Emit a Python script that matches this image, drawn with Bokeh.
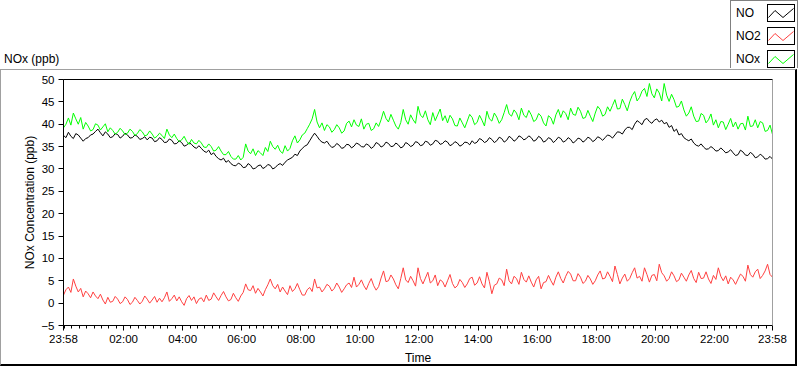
from bokeh.plotting import figure
from bokeh.layouts import column
from bokeh.models import Range1d, FixedTicker, LinearAxis, Div
from bokeh.embed import file_html
from bokeh.resources import INLINE

# ---- data (minutes since 23:58, sampled every 5 min) ----
minutes = list(range(0, 1441, 5))

no = [37.5, 37.0, 38.2, 37.3, 36.8, 37.9, 37.6, 36.9, 36.2, 36.8,
      37.0, 37.6, 37.8, 38.4, 38.9, 38.1, 37.4, 38.3, 37.8, 37.0,
      37.2, 37.9, 37.7, 36.9, 37.3, 38.0, 37.6, 36.9, 37.0, 37.6,
      37.3, 36.6, 36.8, 37.2, 36.5, 37.1, 36.9, 36.1, 36.3, 37.0,
      36.6, 35.9, 36.0, 36.7, 36.4, 35.6, 35.7, 36.3, 35.9, 35.1,
      35.3, 35.9, 35.5, 34.9, 34.6, 35.2, 34.6, 34.0, 33.7, 34.2,
      33.2, 33.6, 32.8, 32.3, 32.0, 32.4, 31.5, 31.9, 31.2, 30.8,
      30.7, 31.3, 31.0, 30.3, 30.4, 31.2, 30.8, 30.0, 30.2, 30.7,
      30.9, 30.1, 30.4, 31.0, 30.8, 30.0, 30.3, 30.9, 31.2, 30.8,
      31.5, 32.0, 32.3, 32.6, 33.3, 33.0, 34.0, 34.6, 35.1, 35.4,
      36.3, 37.2, 38.0, 37.3, 36.5, 36.0, 35.8, 36.2, 35.4, 34.8,
      35.0, 35.7, 35.3, 34.6, 34.8, 35.5, 35.4, 34.7, 35.1, 35.8,
      35.5, 35.0, 34.9, 35.6, 35.3, 34.6, 35.0, 35.9, 35.6, 34.9,
      35.2, 36.0, 35.7, 35.0, 35.1, 35.8, 35.4, 34.7, 35.0, 35.9,
      35.6, 35.0, 35.3, 36.1, 35.9, 35.2, 35.4, 36.2, 36.0, 35.3,
      35.6, 36.4, 36.2, 35.5, 35.7, 36.3, 36.0, 35.2, 35.5, 36.1,
      35.8, 35.1, 35.4, 36.0, 35.9, 35.4, 36.3, 35.7, 36.0, 36.8,
      36.5, 35.9, 36.2, 37.0, 36.6, 35.9, 36.3, 37.1, 36.8, 36.0,
      36.4, 37.3, 36.9, 36.2, 36.6, 37.4, 37.1, 36.5, 36.8, 37.4,
      37.0, 36.2, 36.5, 37.3, 36.9, 36.0, 36.3, 37.0, 36.7, 35.9,
      36.4, 37.1, 36.8, 36.0, 36.3, 37.0, 36.6, 35.8, 36.2, 36.9,
      36.7, 36.0, 36.4, 37.1, 36.8, 36.1, 36.5, 37.2, 36.9, 36.4,
      37.0, 37.6, 37.4, 36.9, 37.6, 38.3, 38.2, 37.8, 38.7, 39.3,
      39.3, 38.8, 40.0, 40.8, 40.4, 39.9, 41.0, 41.3, 40.6, 40.2,
      40.9, 41.2, 40.5, 40.9, 40.1, 40.4, 39.3, 39.7, 38.4, 38.9,
      37.6, 37.9, 37.0, 36.6, 36.3, 36.7, 35.8, 35.3, 35.1, 35.6,
      34.9, 34.4, 34.5, 35.0, 34.6, 34.0, 34.1, 34.7, 34.2, 33.6,
      33.8, 34.3, 33.6, 33.0, 33.2, 34.2, 33.8, 33.1, 33.0, 33.7,
      33.3, 32.5, 32.7, 33.3, 32.9, 32.2, 32.3, 32.8, 32.2]

no2 = [1.8, 3.0, 3.6, 2.4, 5.4, 3.8, 2.5, 3.3, 1.4, 2.7,
       2.1, 1.2, 2.5, 1.6, 1.0, 2.0, 0.7, -0.2, 1.3, 0.2,
       0.4, 1.5, 0.9, -0.1, 0.3, 1.4, 0.8, -0.3, 0.2, 1.3,
       0.6, -0.2, 0.4, 1.6, 0.9, 0.0, 0.7, 1.5, 0.2, 1.1,
       0.3, 1.2, 2.5, 0.4, 1.0, 1.8, 0.5, 1.4, 0.3, -0.5,
       1.0, 1.7, 0.6, 1.4, -0.1, 0.9, 1.2, 0.3, 1.8, 0.6,
       0.9, 2.3, 1.4, 0.6, 1.7, 2.6, 1.4, 0.5, 0.8, 2.2,
       1.2, 0.4, 1.6, 2.4, 4.3, 3.0, 2.8, 3.9, 2.2, 3.3,
       2.5, 1.6, 3.0, 4.1, 5.4, 3.9, 3.2, 4.2, 2.5, 3.6,
       2.7, 1.9, 3.9, 2.6, 3.2, 4.4, 3.0, 1.8, 1.8, 3.0,
       3.5, 2.6, 5.4, 3.4, 3.6, 2.5, 3.2, 4.2, 3.8, 2.7,
       3.3, 4.5, 3.6, 2.4, 3.2, 4.1, 4.5, 3.5, 5.8, 3.6,
       4.2, 5.2, 3.9, 3.0, 4.4, 5.5, 3.9, 2.9, 3.7, 5.6,
       7.2, 4.8, 5.0, 6.3, 5.4, 4.1, 3.2, 5.5, 7.9, 5.2,
       4.6, 6.0, 5.0, 3.8, 7.9, 5.5, 4.3, 5.6, 6.9, 4.5,
       5.0, 6.3, 3.9, 5.2, 4.8, 3.6, 5.0, 6.4, 4.4, 3.4,
       3.9, 5.3, 4.6, 3.5, 4.3, 5.5, 5.8, 4.0, 4.5, 5.9,
       4.3, 3.4, 6.9, 4.8, 2.1, 4.0, 4.3, 5.6, 5.2, 3.9,
       7.6, 5.0, 4.3, 6.0, 5.5, 4.2, 6.9, 5.3, 4.7, 6.1,
       4.7, 3.6, 5.2, 6.0, 3.2, 4.6, 4.8, 6.2, 5.0, 4.0,
       5.8, 7.0, 5.5, 4.5, 6.0, 7.1, 6.5, 5.0, 5.0, 6.6,
       5.8, 4.4, 4.9, 6.2, 5.4, 4.2, 5.0, 6.3, 7.2, 5.4,
       5.6, 7.0, 6.0, 4.8, 8.3, 6.4, 4.3, 5.6, 6.5, 4.9,
       5.5, 6.8, 7.9, 5.6, 6.0, 4.9, 7.9, 6.4, 4.7, 6.2,
       6.4, 5.0, 8.7, 6.8, 6.1, 4.9, 5.5, 7.0, 6.1, 4.8,
       5.2, 6.7, 5.8, 4.9, 6.3, 7.3, 5.5, 4.6, 6.9, 5.5,
       5.6, 7.0, 5.4, 4.4, 6.2, 5.3, 7.9, 6.0, 5.0, 6.1,
       4.3, 5.8, 5.2, 4.2, 5.4, 6.5, 6.0, 4.9, 8.5, 6.4,
       5.8, 7.0, 7.6, 5.5, 6.2, 7.2, 8.7, 6.4, 5.8]

nox = [39.2, 40.0, 41.4, 39.8, 42.5, 41.2, 40.0, 41.5, 38.9, 40.4,
       39.6, 38.5, 38.8, 40.1, 39.8, 38.7, 39.4, 40.1, 38.3, 39.2,
       38.6, 37.8, 38.2, 39.1, 38.5, 37.7, 38.0, 38.9, 38.4, 37.5,
       37.9, 38.8, 38.3, 37.4, 37.6, 38.5, 37.8, 36.9, 37.3, 38.0,
       37.5, 36.8, 38.9, 37.6, 37.0, 37.8, 36.8, 36.1, 36.5, 37.3,
       36.2, 35.5, 36.6, 35.8, 35.6, 36.4, 35.8, 34.9, 34.8, 35.6,
       35.0, 34.0, 34.2, 35.0, 34.0, 33.2, 33.2, 33.9, 32.8, 32.2,
       32.2, 33.0, 32.0, 32.6, 35.6, 34.0, 33.4, 34.5, 33.0, 34.1,
       33.6, 33.0, 34.8, 33.9, 36.2, 35.0, 34.4, 35.3, 34.0, 33.5,
       35.2, 34.0, 34.6, 36.3, 37.4, 35.8, 36.5, 37.6, 38.0, 39.0,
       40.0, 41.2, 43.3, 40.5, 39.2, 40.3, 38.6, 39.9, 39.4, 38.2,
       38.8, 39.9, 39.2, 38.0, 38.5, 40.2, 40.7, 39.4, 41.0, 39.8,
       39.5, 41.2, 38.9, 40.0, 40.2, 38.6, 39.0, 40.3, 39.5, 41.0,
       42.9, 41.3, 40.5, 42.2, 40.9, 39.6, 38.9, 40.4, 43.3, 41.0,
       40.0, 42.1, 41.0, 40.2, 44.0, 42.0, 41.5, 43.0, 41.0, 39.9,
       42.6, 40.8, 42.1, 43.4, 40.8, 41.9, 40.3, 42.0, 41.2, 39.7,
       39.6, 41.4, 40.3, 39.2, 40.7, 42.2, 41.5, 39.9, 40.4, 42.0,
       40.9, 39.6, 42.9, 41.2, 40.7, 42.5, 41.6, 40.2, 41.0, 42.6,
       44.4, 42.3, 41.8, 43.2, 42.5, 41.0, 43.6, 42.0, 41.5, 43.1,
       42.1, 40.6, 41.0, 42.4, 41.8, 40.3, 39.6, 41.9, 41.4, 40.0,
       42.1, 43.3, 41.5, 43.0, 42.4, 41.0, 43.6, 42.2, 42.0, 43.8,
       42.9, 41.3, 41.5, 43.1, 41.8, 40.6, 42.5, 44.0, 43.3, 41.8,
       42.2, 43.9, 42.9, 44.2, 45.5, 43.4, 43.5, 45.6, 44.4, 43.0,
       45.0, 46.4, 47.3, 45.2, 46.0, 47.4, 48.0, 46.2, 49.1, 46.8,
       45.9, 47.9, 47.0, 45.2, 49.1, 46.5, 45.1, 46.7, 45.5, 43.8,
       44.0, 45.2, 43.2, 41.8, 42.5, 43.9, 41.8, 40.6, 40.7, 42.4,
       42.0, 40.3, 41.0, 42.3, 39.8, 41.0, 39.2, 40.6, 40.5, 38.8,
       40.0, 41.3, 39.4, 40.5, 38.9, 40.1, 40.2, 38.7, 41.8, 39.5,
       39.6, 41.0, 39.2, 40.6, 40.3, 38.4, 38.6, 39.8, 37.7]

series_names = ["NO", "NO2", "NOx"]
series_colors = ["#000000", "#ff4040", "#00ff00"]

time_ticks = [0, 122, 242, 362, 482, 602, 722, 842, 962, 1082, 1202, 1322, 1440]
time_labels = ["23:58", "02:00", "04:00", "06:00", "08:00", "10:00", "12:00",
               "14:00", "16:00", "18:00", "20:00", "22:00", "23:58"]
minor_time_ticks = list(range(2, 1441, 15))
y_ticks = [-5, 0, 5, 10, 15, 20, 25, 30, 35, 40, 45, 50]

FONT = "Liberation Sans"

# ---------------- top strip: chart title + legend (HTML) ----------------
legend_html = []
for i, (name, c) in enumerate(zip(series_names, series_colors)):
    top = 4 + 23 * i
    legend_html.append(
        f'<div style="position:absolute;left:736px;top:{top + 2}px;line-height:14px;">{name}</div>'
        f'<svg width="28" height="18" style="position:absolute;left:767px;top:{top}px;">'
        f'<rect x="0.5" y="0.5" width="27" height="17" fill="white" stroke="black" stroke-width="1"/>'
        f'<polyline points="1.5,13.5 8,6.5 16,13.5 26.5,4.5" fill="none" stroke="{c}" stroke-width="1"/>'
        f'</svg>')

strip_html = (
    f'<div style="position:relative;width:800px;height:69px;font-family:\'{FONT}\';'
    f'font-size:12px;color:#000;background:#fff;overflow:hidden;">'
    f'<div style="position:absolute;left:4px;top:52px;line-height:14px;">NOx (ppb)</div>'
    f'<div style="position:absolute;left:730px;top:0px;width:68px;height:68px;'
    f'border:1px solid #808080;border-bottom:none;background:#fff;"></div>'
    + "".join(legend_html) +
    '</div>')
strip = Div(text=strip_html, width=800, height=69, margin=(0, 0, 0, 0))

# ---------------- main chart ----------------
p = figure(width=797, height=297, x_range=Range1d(0, 1440), y_range=Range1d(-5, 50),
           output_backend="svg", toolbar_location=None, title=None,
           min_border_left=62, min_border_right=26, min_border_top=9, min_border_bottom=37,
           x_axis_label="Time", y_axis_label="NOx Concentration (ppb)")
p.styles = {"border-left": "1px solid #a0a0a0", "border-top": "1px solid #a0a0a0",
            "border-right": "2px solid #000000", "border-bottom": "2px solid #000000"}
p.outline_line_color = "black"
p.xgrid.visible = False
p.ygrid.visible = False
p.background_fill_color = "white"
p.border_fill_color = "white"

xa = p.xaxis[0]
xa.ticker = FixedTicker(ticks=time_ticks, minor_ticks=minor_time_ticks)
xa.major_label_overrides = {t: l for t, l in zip(time_ticks, time_labels)}
xa.major_tick_out = 5
xa.major_tick_in = 0
xa.minor_tick_out = 3
xa.minor_tick_in = 0
xa.major_label_standoff = 2
xa.major_label_text_font = FONT
xa.major_label_text_font_size = "11.5px"
xa.major_label_text_color = "black"
xa.axis_line_color = "black"
xa.axis_label_standoff = 3
xa.axis_label_text_font = FONT
xa.axis_label_text_font_size = "12px"
xa.axis_label_text_font_style = "normal"
xa.axis_label_text_color = "black"

ya = p.yaxis[0]
ya.ticker = FixedTicker(ticks=y_ticks)
ya.major_tick_out = 5
ya.major_tick_in = 0
ya.minor_tick_line_color = None
ya.major_label_standoff = 4
ya.major_label_text_font = FONT
ya.major_label_text_font_size = "11.5px"
ya.major_label_text_color = "black"
ya.axis_line_color = "black"
ya.axis_label_standoff = 1
ya.axis_label_text_font = FONT
ya.axis_label_text_font_size = "12px"
ya.axis_label_text_font_style = "normal"
ya.axis_label_text_color = "black"

right_ax = LinearAxis(ticker=FixedTicker(ticks=[]), major_label_text_font_size="0px",
                      axis_line_color="#a0a0a0", major_tick_line_color=None,
                      minor_tick_line_color=None)
p.add_layout(right_ax, "right")

for vals, c in zip([no, no2, nox], series_colors):
    p.line(minutes, vals, line_color=c, line_width=1)

layout = column(strip, p, spacing=0)
open("out.html", "w").write(file_html(layout, INLINE))
